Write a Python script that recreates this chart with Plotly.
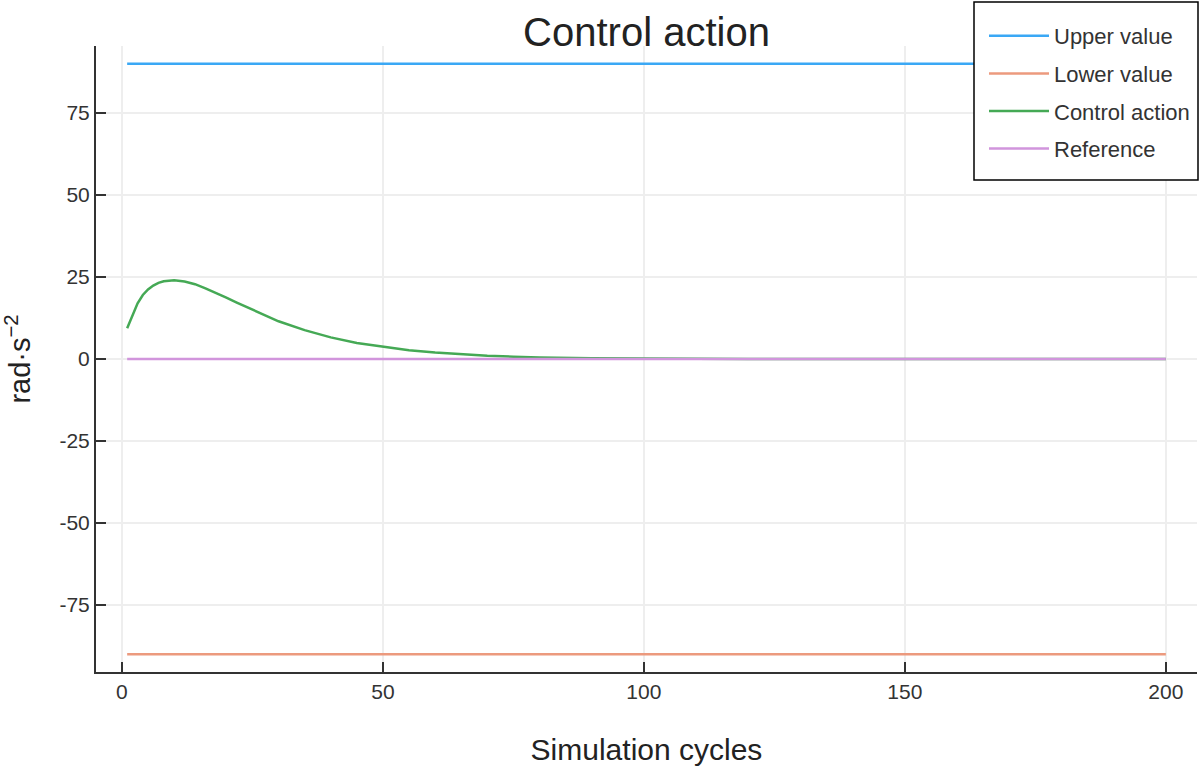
import plotly.graph_objects as go

# Data
cycles_bounds = [1, 200]
upper_value = [90, 90]
lower_value = [-90, -90]
reference = [0, 0]

control_cycles = [1, 2, 3, 4, 5, 6, 7, 8, 9, 10, 12, 14, 16, 18, 20, 22, 25, 30, 35, 40,
                  45, 50, 55, 60, 65, 70, 75, 80, 90, 100, 120, 150, 200]
control_action = [9.4, 13.5, 17.0, 19.5, 21.2, 22.4, 23.2, 23.7, 23.9, 24.0, 23.6, 22.8,
                  21.5, 20.2, 18.7, 17.2, 15.0, 11.5, 8.8, 6.6, 4.9, 3.7, 2.7, 2.0, 1.4,
                  1.0, 0.7, 0.45, 0.2, 0.08, 0.02, 0.0, 0.0]

x_ticks = [0, 50, 100, 150, 200]
x_tick_text = ["0", "50", "100", "150", "200"]
y_ticks = [-75, -50, -25, 0, 25, 50, 75]
y_tick_text = ["-75", "-50", "-25", "0", "25", "50", "75"]

colors = ["#3aa8f5", "#ec9a7e", "#45a955", "#d195dc"]
FONT = "Liberation Sans, Arial, sans-serif"

fig = go.Figure()
series = [
    ("Upper value", cycles_bounds, upper_value),
    ("Lower value", cycles_bounds, lower_value),
    ("Control action", control_cycles, control_action),
    ("Reference", cycles_bounds, reference),
]
for i, (name, xs, ys) in enumerate(series):
    fig.add_trace(go.Scatter(x=xs, y=ys, mode="lines", name=name,
                             legendgroup=name,
                             line=dict(color=colors[i], width=2.5)))

axis_common = dict(
    showline=True, linecolor="#333333", linewidth=2,
    ticks="inside", ticklen=10, tickwidth=2, tickcolor="#333333",
    showgrid=True, gridcolor="#eeeeee", gridwidth=1.5,
    zeroline=False, mirror=False,
    tickfont=dict(family=FONT, size=21, color="#333333"),
)

W, H = 1199, 766
L, T = 96, 46
PLOT_W, PLOT_H = 1101, 626

# legend frame (drawn as a shape so its padding matches the reference)
fig.add_shape(type="rect", xref="paper", yref="paper", layer="above",
              x0=(974 - L) / PLOT_W, x1=(1198 - L) / PLOT_W,
              y0=(T + PLOT_H - 180) / PLOT_H, y1=(T + PLOT_H - 2) / PLOT_H,
              fillcolor="white", line=dict(color="#000000", width=1.5))

fig.update_layout(
    width=W, height=H,
    paper_bgcolor="white", plot_bgcolor="white",
    margin=dict(l=L, r=W - L - PLOT_W, t=T, b=H - T - PLOT_H, autoexpand=False),
    title=dict(text="Control action", x=(L + PLOT_W / 2) / W, xanchor="center",
               y=1 - 32 / H, yanchor="middle",
               font=dict(family=FONT, size=40, color="#222222")),
    xaxis=dict(range=[-4.97, 205.97], tickvals=x_ticks, ticktext=x_tick_text,
               title=dict(text="Simulation cycles", standoff=38,
                          font=dict(family=FONT, size=30, color="#222222")),
               **axis_common),
    yaxis=dict(range=[-95.4, 95.4], tickvals=y_ticks, ticktext=y_tick_text,
               title=dict(text="rad·s<sup>−2</sup>", standoff=29,
                          font=dict(family=FONT, size=29, color="#222222")),
               **axis_common),
    legend=dict(x=(974 - L) / PLOT_W, xanchor="left",
                y=(T + PLOT_H - 15) / PLOT_H, yanchor="top",
                borderwidth=0, bgcolor="rgba(0,0,0,0)",
                font=dict(family=FONT, size=22, color="#333333"),
                tracegroupgap=6, itemwidth=60, indentation=10),
    showlegend=True,
)

fig.write_html(
    "out.html",
    config={"displayModeBar": False},
    post_script="document.body.style.margin='0';document.body.style.overflow='hidden';",
)
